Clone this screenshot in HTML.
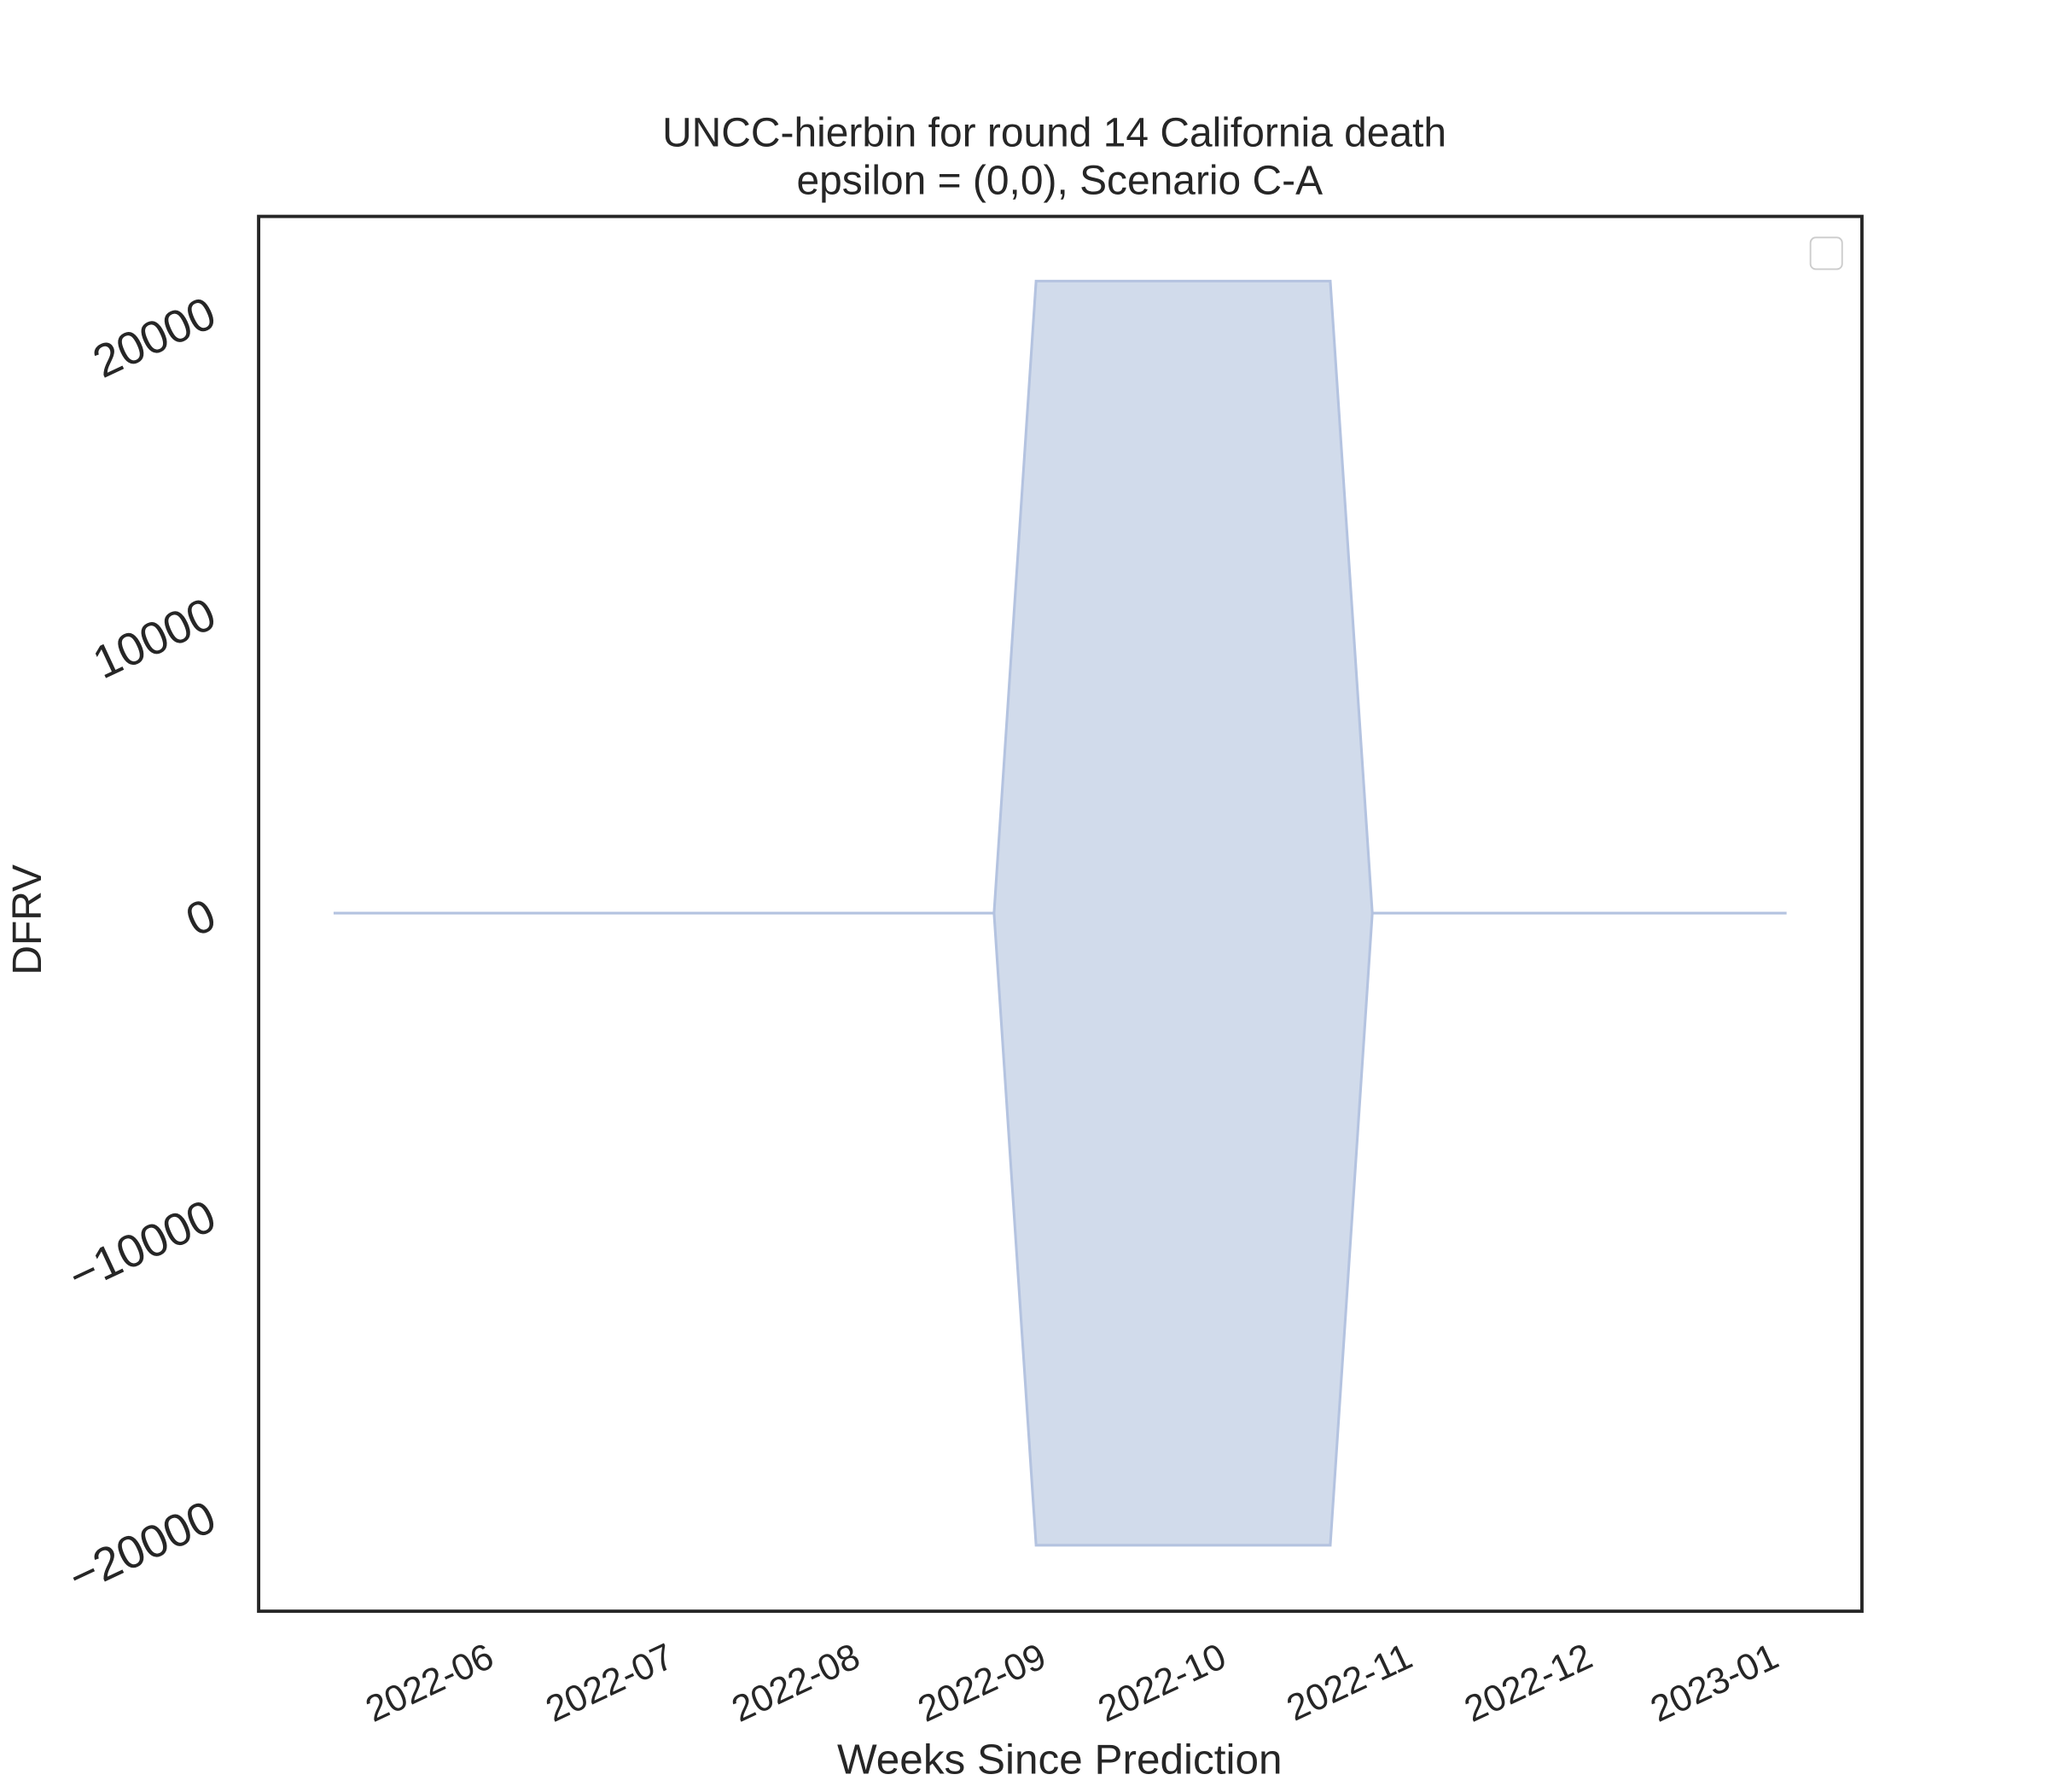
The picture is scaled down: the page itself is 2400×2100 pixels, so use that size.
<!DOCTYPE html>
<html><head><meta charset="utf-8"><style>
html,body{margin:0;padding:0;background:#fff;}
svg{display:block;font-family:"Liberation Sans",Arial,sans-serif;}
</style></head><body>
<svg id="chart" width="2400" height="2100" viewBox="0 0 1552 1358" xmlns="http://www.w3.org/2000/svg">
<rect width="1552" height="1358" fill="#fff"/>
<text x="799" y="111" text-anchor="middle" font-size="31" fill="#262626">UNCC-hierbin for round 14 California death</text>
<text x="803" y="147" text-anchor="middle" font-size="31" fill="#262626">epsilon = (0,0), Scenario C-A</text>
<g id="plot"></g>
<rect x="196" y="164" width="1215" height="1057" fill="none" stroke="#262626" stroke-width="2.5"/>
<rect x="1372" y="180" width="24" height="24" rx="4" fill="#fff" stroke="#ccc" stroke-width="1.2"/>
<g id="yticks"></g><g id="xticks"></g>
<text transform="translate(31,697) rotate(-90)" text-anchor="middle" font-size="31" fill="#262626">DFRV</text>
<text x="803" y="1344" text-anchor="middle" font-size="32" fill="#262626">Weeks Since Prediction</text>
</svg>
<script>
const pointDates = ["2022-05-08","2022-08-26","2022-09-02","2022-10-21","2022-10-28","2023-01-05"];
const halfWidths = [0,0,21000,21000,0,0];
const yTickValues = [20000,10000,0,-10000,-20000];
const yTickLabels = ["20000","10000","0","\u221210000","\u221220000"];
const xTickDates = ["2022-06-01","2022-07-01","2022-08-01","2022-09-01","2022-10-01","2022-11-01","2022-12-01","2023-01-01"];
const xTickLabels = ["2022-06","2022-07","2022-08","2022-09","2022-10","2022-11","2022-12","2023-01"];

const NS="http://www.w3.org/2000/svg";
const day0=Date.parse("2022-06-01");
function xs(d){return 362+(Date.parse(d)-day0)/86400000*4.55;}
function ys(v){return 692-v*0.02281;}

const plot=document.getElementById('plot');
const upperPts=[],lowerPts=[];
pointDates.forEach((d,i)=>{upperPts.push(xs(d)+","+ys(halfWidths[i]));lowerPts.unshift(xs(d)+","+ys(-halfWidths[i]));});
const poly=document.createElementNS(NS,'polygon');
poly.setAttribute('points',upperPts.concat(lowerPts).join(' '));
poly.setAttribute('fill','#d1dbeb');poly.setAttribute('stroke','#b4c3e0');poly.setAttribute('stroke-width','2');


plot.appendChild(poly);

const yg=document.getElementById('yticks');
yTickValues.forEach((v,i)=>{
  const t=document.createElementNS(NS,'text');
  const y=ys(v);
  t.setAttribute('transform','translate(166,'+(y+10)+') rotate(-25)');
  t.setAttribute('text-anchor','end');t.setAttribute('font-size','35');t.setAttribute('fill','#262626');
  t.textContent=yTickLabels[i];
  
  
  yg.appendChild(t);
});
const xg=document.getElementById('xticks');
xTickDates.forEach((d,i)=>{
  const t=document.createElementNS(NS,'text');
  const x=xs(d);
  t.setAttribute('transform','translate('+(x+14)+',1262) rotate(-25)');
  t.setAttribute('text-anchor','end');t.setAttribute('font-size','28');t.setAttribute('fill','#262626');
  t.textContent=xTickLabels[i];
  
  
  xg.appendChild(t);
});
</script>
</body></html>
